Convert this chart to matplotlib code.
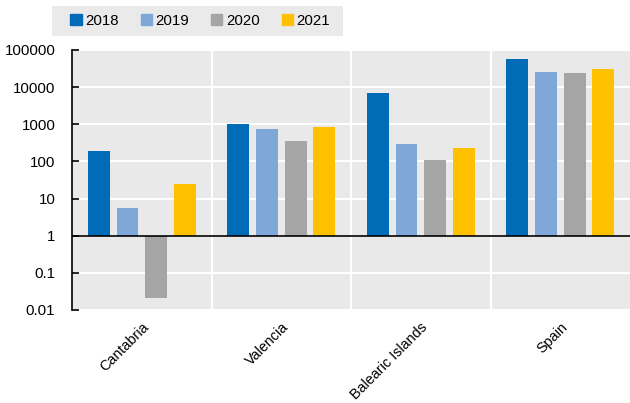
import numpy as np
import matplotlib.pyplot as plt
from matplotlib.patches import Patch, Rectangle

plt.rcParams['font.family'] = ['Liberation Sans', 'DejaVu Sans']

# ===== Data ==================================================================
regions = ["Cantabria", "Valencia", "Balearic Islands", "Spain"]
years = ["2018", "2019", "2020", "2021"]
v2018 = [185, 1030, 6950, 58500]
v2019 = [5.6, 750, 290, 25000]
v2020 = [0.021, 357, 110, 24500]
v2021 = [25, 835, 233, 30800]
series = [v2018, v2019, v2020, v2021]
colors = ["#006BB6", "#7FA8D9", "#A5A5A5", "#FFC000"]

BASE = 1.0       # bars start from 1
STEP = 0.205     # distance between bars in a group
WIDTH = 0.157

# ===== Plotting ==============================================================
W, H = 630, 403
fig = plt.figure(figsize=(W / 100, H / 100), dpi=100)
ax = fig.add_axes([0.1143, 0.2308, 0.8857, 0.6452])
ax.set_facecolor("#E9E9E9")

x = np.arange(len(regions))
for i, vals in enumerate(series):
    off = (i - 1.5) * STEP
    heights = [v - BASE for v in vals]
    ax.bar(x + off, heights, WIDTH, bottom=BASE, color=colors[i],
           edgecolor="none", zorder=3)

ax.set_yscale("log")
ax.set_ylim(0.01, 100000)
ax.set_xlim(-0.5, len(regions) - 0.5)
ticks = [0.01, 0.1, 1, 10, 100, 1000, 10000, 100000]
ax.set_yticks(ticks)
ax.set_yticklabels(["0.01", "0.1", "1", "10", "100", "1000", "10000", "100000"])
ax.yaxis.set_minor_locator(plt.NullLocator())
ax.tick_params(axis="y", direction="in", length=5, width=1.2, labelsize=10.8,
               pad=12, colors="black")

ax.set_xticks(x)
ax.set_xticklabels(regions, rotation=45, ha="right", rotation_mode="anchor",
                   fontsize=10.4)
ax.tick_params(axis="x", length=0, pad=7)
ax.set_xticks(x[:-1] + 0.5, minor=True)
ax.tick_params(axis="x", which="minor", length=0)

ax.grid(axis="y", which="major", color="white", lw=1.5, zorder=1)
ax.grid(axis="x", which="minor", color="white", lw=1.5, zorder=1)
ax.set_axisbelow(True)

for s in ["top", "right", "bottom"]:
    ax.spines[s].set_visible(False)
ax.spines["left"].set_linewidth(1.2)

# baseline at 1 with small ticks between groups
ax.axhline(BASE, color="black", lw=1.2, zorder=4)
sec = ax.secondary_xaxis(2 / 7)
sec.set_xticks(x[:-1] + 0.5)
sec.set_xticklabels([])
sec.tick_params(direction="in", length=5, width=1.2)
sec.spines["bottom"].set_visible(False)

# legend on a light grey strip
fig.patches.append(Rectangle((52 / W, 1 - 36 / H), 291 / W, 30 / H,
                             transform=fig.transFigure, facecolor="#EAEAEA",
                             edgecolor="none", zorder=0))
handles = [Patch(color=c, label=y) for c, y in zip(colors, years)]
fig.legend(handles=handles, ncol=4, loc="center",
           bbox_to_anchor=(0.318, 0.948), frameon=False,
           fontsize=10.8, handlelength=0.75, handleheight=0.75,
           handletextpad=0.25, columnspacing=1.45)

fig.savefig("out.png", dpi=100)
